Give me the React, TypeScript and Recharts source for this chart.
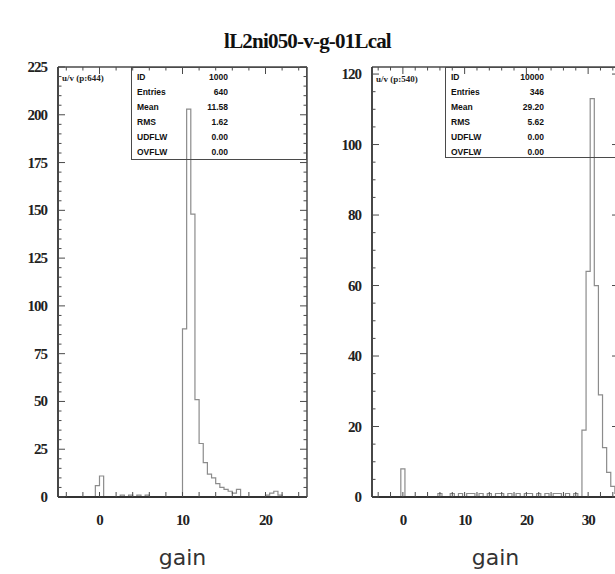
import React from 'react';
import { LineChart, Line, XAxis, YAxis } from 'recharts';

// ---------- data ----------
const TITLE = 'lL2ni050-v-g-01Lcal';
const AXIS_LABEL = 'gain';

// left histogram: 60 bins from -5, width 0.5
const LEFT_LO = -5;
const LEFT_W = 0.5;
const LEFT_COUNTS = [
  0, 0, 0, 0, 0, 0, 0, 0, 0, 6,
  11, 0, 0, 0, 0, 1, 0, 1, 0, 1,
  0, 1, 0, 0, 0, 0, 0, 0, 0, 0,
  88, 203, 148, 51, 28, 18, 12, 10, 7, 5,
  4, 3, 2, 4, 0, 0, 0, 0, 0, 0,
  1, 2, 3, 1, 0, 0, 0, 0, 0, 0,
];
const LEFT_X_DOMAIN = [-5, 25];
const LEFT_Y_DOMAIN = [0, 225];
const LEFT_X_TICKS = [0, 10, 20];
const LEFT_Y_TICKS = [0, 25, 50, 75, 100, 125, 150, 175, 200, 225];

// right histogram: 60 bins from -5, width 2/3
const RIGHT_LO = -5;
const RIGHT_W = 2 / 3;
const RIGHT_COUNTS = [
  0, 0, 0, 0, 0, 0, 0, 8, 0, 0,
  0, 0, 0, 0, 0, 0, 1, 0, 0, 1,
  0, 1, 0, 1, 1, 0, 1, 0, 1, 0,
  1, 1, 0, 1, 0, 1, 0, 1, 1, 0,
  1, 0, 1, 0, 1, 1, 0, 1, 0, 1,
  0, 19, 64, 113, 60, 29, 14, 7, 3, 1,
];
const RIGHT_X_DOMAIN = [-5, 35];
const RIGHT_Y_DOMAIN = [0, 122];
const RIGHT_X_TICKS = [0, 10, 20, 30];
const RIGHT_Y_TICKS = [0, 20, 40, 60, 80, 100, 120];

const STAT_NAMES = ['ID', 'Entries', 'Mean', 'RMS', 'UDFLW', 'OVFLW'];
const LEFT_STATS = ['1000', '640', '11.58', '1.62', '0.00', '0.00'];
const RIGHT_STATS = ['10000', '346', '29.20', '5.62', '0.00', '0.00'];
const LEFT_TAG = 'u/v (p:644)';
const RIGHT_TAG = 'u/v (p:540)';

// ---------- helpers ----------
function toSteps(lo: number, w: number, counts: number[]) {
  const pts = counts.map((c, i) => ({ g: lo + i * w, c }));
  pts.push({ g: lo + counts.length * w, c: 0 });
  return pts;
}
function range(a: number, b: number, s: number) {
  const out: number[] = [];
  for (let v = a; v <= b + 1e-9; v += s) out.push(Math.round(v * 1000) / 1000);
  return out;
}

const FRAME = '#4a4a4a';
const HIST = '#8c8c8c';
const TICK_FONT = '"Liberation Serif", "Times New Roman", serif';

function makeTick(side: 'left' | 'right' | 'top', majors: number[], labeled: boolean) {
  return (props: any) => {
    const { x, y, payload } = props;
    const v = payload.value;
    const isMajor = majors.some((m) => Math.abs(m - v) < 1e-6);
    const len = isMajor ? 7 : 3.5;
    let line;
    if (side === 'left') line = <line x1={x} x2={x + len} y1={y} y2={y} stroke={FRAME} strokeWidth={1} />;
    else if (side === 'right') line = <line x1={x} x2={x - len} y1={y} y2={y} stroke={FRAME} strokeWidth={1} />;
    else line = <line x1={x} x2={x} y1={y} y2={y + len} stroke={FRAME} strokeWidth={1} />;
    let label = null;
    if (labeled && isMajor && side === 'left')
      label = (
        <text x={x - 11} y={y} textAnchor="end" dominantBaseline="central" fontFamily={TICK_FONT} fontWeight={700} fontSize={15} letterSpacing={-1} fill="#222">
          {v}
        </text>
      );
    return (
      <g>
        {line}
        {label}
      </g>
    );
  };
}

type PanelProps = {
  lo: number;
  w: number;
  counts: number[];
  xDomain: number[];
  yDomain: number[];
  xTicks: number[];
  yTicks: number[];
  xMinor: number[];
  yMinor: number[];
  margin: { top: number; left: number; right: number; bottom: number };
  width: number;
};

function Panel(p: PanelProps) {
  const data = toSteps(p.lo, p.w, p.counts);
  return (
    <LineChart width={p.width} height={574} data={data} margin={p.margin} style={{ overflow: 'visible' }}>
      <XAxis
        xAxisId="b"
        type="number"
        dataKey="g"
        domain={p.xDomain}
        ticks={p.xMinor}
        interval={0}
        height={1}
        tickSize={-5}
        tickMargin={22}
        tickLine={{ stroke: FRAME, strokeWidth: 1 }}
        axisLine={{ stroke: '#333', strokeWidth: 2 }}
        tickFormatter={(v: number) => (p.xTicks.some((m) => Math.abs(m - v) < 1e-6) ? String(v) : '')}
        tick={{ fontFamily: TICK_FONT, fontWeight: 700, fontSize: 15, fill: '#222', letterSpacing: -1 }}
        allowDataOverflow
      />
      <XAxis
        xAxisId="t"
        orientation="top"
        type="number"
        dataKey="g"
        domain={p.xDomain}
        ticks={p.xMinor}
        interval={0}
        height={1}
        tickSize={0}
        tickMargin={0}
        tickLine={false}
        axisLine={{ stroke: FRAME, strokeWidth: 1.5 }}
        tick={makeTick('top', p.xTicks, false)}
        allowDataOverflow
      />
      <YAxis
        yAxisId="l"
        type="number"
        domain={p.yDomain}
        ticks={p.yMinor}
        interval={0}
        width={1}
        tickSize={0}
        tickMargin={0}
        tickLine={false}
        axisLine={{ stroke: '#333', strokeWidth: 1.8 }}
        tick={makeTick('left', p.yTicks, true)}
        allowDataOverflow
      />
      <YAxis
        yAxisId="r"
        orientation="right"
        type="number"
        domain={p.yDomain}
        ticks={p.yMinor}
        interval={0}
        width={1}
        tickSize={0}
        tickMargin={0}
        tickLine={false}
        axisLine={{ stroke: FRAME, strokeWidth: 1.5 }}
        tick={makeTick('right', p.yTicks, false)}
        allowDataOverflow
      />
      <Line
        xAxisId="b"
        yAxisId="l"
        type="stepAfter"
        dataKey="c"
        stroke={HIST}
        strokeWidth={1.2}
        dot={false}
        activeDot={false}
        isAnimationActive={false}
      />
    </LineChart>
  );
}

function StatsBox({ left, top, width, height, valueRight, values }: any) {
  return (
    <div
      style={{
        position: 'absolute',
        left,
        top,
        width,
        height,
        border: `1.5px solid ${FRAME}`,
        boxSizing: 'border-box',
        fontFamily: '"Liberation Sans", Arial, sans-serif',
        fontWeight: 700,
        fontSize: 8.5,
        color: '#111',
      }}
    >
      {STAT_NAMES.map((n, i) => (
        <div key={n} style={{ position: 'absolute', top: 3 + i * 15, left: 5, height: 12, lineHeight: '12px' }}>
          {n}
        </div>
      ))}
      {values.map((v: string, i: number) => (
        <div
          key={i}
          style={{ position: 'absolute', top: 3 + i * 15, left: 0, width: valueRight, textAlign: 'right', height: 12, lineHeight: '12px' }}
        >
          {v}
        </div>
      ))}
    </div>
  );
}

export default function App() {
  return (
    <div
      style={{
        position: 'absolute',
        left: 0,
        top: 0,
        width: 615,
        height: 574,
        overflow: 'hidden',
        background: '#fff',
      }}
    >
      <div
        style={{
          position: 'absolute',
          left: 0,
          top: 29,
          width: 615,
          textAlign: 'center',
          fontFamily: TICK_FONT,
          fontWeight: 700,
          fontSize: 21,
          letterSpacing: -0.8,
          lineHeight: '24px',
          color: '#111',
        }}
      >
        {TITLE}
      </div>

      <div style={{ position: 'absolute', left: 0, top: 0 }}>
        <Panel
          lo={LEFT_LO}
          w={LEFT_W}
          counts={LEFT_COUNTS}
          xDomain={LEFT_X_DOMAIN}
          yDomain={LEFT_Y_DOMAIN}
          xTicks={LEFT_X_TICKS}
          yTicks={LEFT_Y_TICKS}
          xMinor={range(-4, 24, 2)}
          yMinor={range(0, 225, 5)}
          width={330}
          margin={{ top: 66, left: 57, right: 22, bottom: 76 }}
        />
      </div>
      <div style={{ position: 'absolute', left: 315, top: 0 }}>
        <Panel
          lo={RIGHT_LO}
          w={RIGHT_W}
          counts={RIGHT_COUNTS}
          xDomain={RIGHT_X_DOMAIN}
          yDomain={RIGHT_Y_DOMAIN}
          xTicks={RIGHT_X_TICKS}
          yTicks={RIGHT_Y_TICKS}
          xMinor={range(-4, 34, 2)}
          yMinor={range(0, 120, 5)}
          width={330}
          margin={{ top: 66, left: 56, right: 25, bottom: 76 }}
        />
      </div>

      <StatsBox left={131} top={67} width={176} height={93} valueRight={96} values={LEFT_STATS} />
      <StatsBox left={445} top={67} width={174} height={91} valueRight={98} values={RIGHT_STATS} />

      <div style={{ position: 'absolute', left: 62, top: 73, fontFamily: TICK_FONT, fontSize: 9, fontWeight: 700, color: '#222' }}>
        {LEFT_TAG}
      </div>
      <div style={{ position: 'absolute', left: 376, top: 74, fontFamily: TICK_FONT, fontSize: 9, fontWeight: 700, color: '#222' }}>
        {RIGHT_TAG}
      </div>

      {[182.5, 495.5].map((cx) => (
        <div
          key={cx}
          style={{
            position: 'absolute',
            left: cx - 50,
            top: 547,
            width: 100,
            textAlign: 'center',
            fontFamily: '"DejaVu Sans", sans-serif',
            fontSize: 22,
            lineHeight: '22px',
            color: '#333',
          }}
        >
          {AXIS_LABEL}
        </div>
      ))}
    </div>
  );
}
